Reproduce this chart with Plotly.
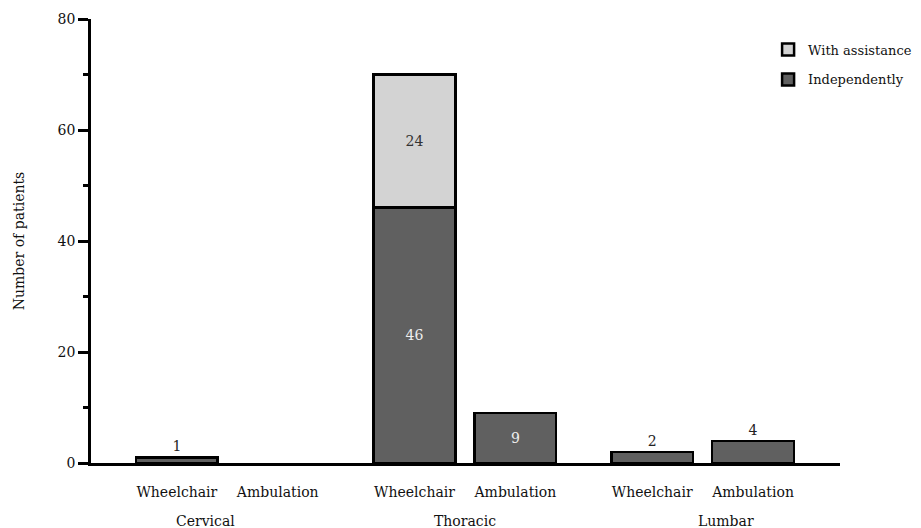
import plotly.graph_objects as go

regions = ["Cervical", "Thoracic", "Lumbar"]
modes = ["Wheelchair", "Ambulation"]
independently = [1, 0, 46, 9, 2, 4]
with_assistance = [0, 0, 24, 0, 0, 0]
y_ticks = [0, 20, 40, 60, 80]

GROUP_STEP = 2.356
BAR_W = 0.81
label_shift = [-0.22, 0.0, 0.23]

xs = []
tick_text = []
for g, _ in enumerate(regions):
    for s, m in enumerate(modes):
        xs.append(g * GROUP_STEP + s)
        tick_text.append(m)

FONT = "DejaVu Serif"
FS = 14

ind_vals = [v if v else None for v in independently]
ass_vals = [v if v else None for v in with_assistance]
ind_pos = ["inside" if (v or 0) >= 5 else "outside" for v in independently]

fig = go.Figure()
fig.add_trace(go.Bar(
    x=xs, y=ind_vals, width=BAR_W, name="Independently",
    marker=dict(color="#606060", line=dict(color="#000000", width=2.5)),
    text=[str(v) if v else "" for v in independently],
    textposition=ind_pos, insidetextanchor="middle",
    insidetextfont=dict(family=FONT, size=FS, color="#eeeeee"),
    outsidetextfont=dict(family=FONT, size=FS, color="#222222"),
    cliponaxis=False, legendgroup="b", legendrank=2,
))
fig.add_trace(go.Bar(
    x=xs, y=ass_vals, width=BAR_W, name="With assistance",
    marker=dict(color="#d3d3d3", line=dict(color="#000000", width=2.5)),
    text=[str(v) if v else "" for v in with_assistance],
    textposition="inside", insidetextanchor="middle",
    insidetextfont=dict(family=FONT, size=FS, color="#333333"),
    cliponaxis=False, legendgroup="a", legendrank=1,
))

for g, r in enumerate(regions):
    fig.add_annotation(x=g * GROUP_STEP + 0.5 + label_shift[g], y=0, yref="paper",
                       yshift=-68, text=r, showarrow=False,
                       font=dict(family=FONT, size=FS, color="#111111"))

fig.update_layout(
    width=921, height=528,
    barmode="stack",
    plot_bgcolor="white", paper_bgcolor="white",
    margin=dict(l=83, r=89, t=11, b=73, autoexpand=False),
    font=dict(family=FONT, size=FS, color="#111111"),
    showlegend=True,
    legend=dict(x=0.904, y=0.965, xanchor="left", yanchor="top",
                traceorder="grouped", tracegroupgap=10,
                font=dict(family=FONT, size=13, color="#111111"),
                bgcolor="rgba(0,0,0,0)"),
    xaxis=dict(range=[-0.851, 6.574], tickvals=xs, ticktext=tick_text,
               showline=True, linecolor="#000000", linewidth=2.5,
               ticks="", showgrid=False, zeroline=False, automargin=False,
               tickangle=0, ticklabelstandoff=14,
               tickfont=dict(family=FONT, size=FS, color="#111111")),
    yaxis=dict(range=[0, 80], tickvals=y_ticks,
               showline=True, linecolor="#000000", linewidth=2.5,
               ticks="outside", ticklen=10, tickwidth=2.5, tickcolor="#000000",
               minor=dict(ticks="outside", ticklen=5, tickwidth=2.5, tickcolor="#000000", dtick=10),
               showgrid=False, zeroline=False, automargin=False,
               title=dict(text="Number of patients", standoff=30,
                          font=dict(family=FONT, size=FS, color="#111111")),
               tickfont=dict(family=FONT, size=FS, color="#111111")),
)

fig.write_html("out.html")
